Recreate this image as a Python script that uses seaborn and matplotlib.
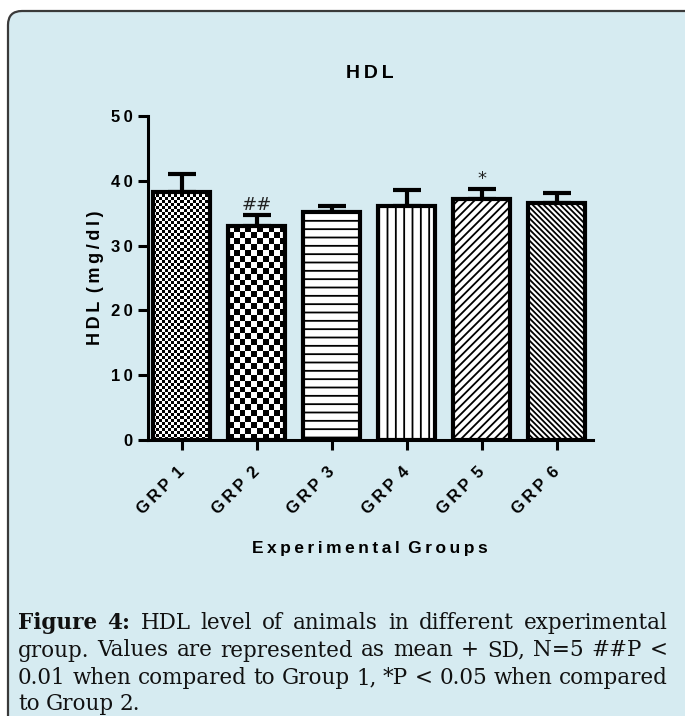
import numpy as np
import matplotlib
matplotlib.use('Agg')
import matplotlib.pyplot as plt
import seaborn as sns
from matplotlib.patches import FancyBboxPatch

# data (mean + SD, mg/dl)
groups = ['GRP 1', 'GRP 2', 'GRP 3', 'GRP 4', 'GRP 5', 'GRP 6']
hdl_mean = [38.3, 33.0, 35.2, 36.1, 37.2, 36.6]
hdl_sd = [2.7, 1.7, 0.9, 2.5, 1.5, 1.5]
sig_marks = ['', '##', '', '', '*', '']
y_ticks = [0, 10, 20, 30, 40, 50]

caption_bold = ['Figure', '4:']
caption_lines = [
    'Figure 4: HDL level of animals in different experimental',
    'group. Values are represented as mean + SD, N=5 ##P <',
    '0.01 when compared to Group 1, *P < 0.05 when compared',
    'to Group 2.',
]

BG = '#d6ebf1'
SANS = ['Liberation Sans', 'DejaVu Sans']
W, H = 685, 716


def spaced(s, gap='\u2009'):
    # GraphPad style letter spacing
    return (gap + ' ').join(gap.join(w) for w in s.split(' '))


sns.set_style('ticks', {'axes.facecolor': 'none'})
plt.rcParams['font.family'] = SANS
plt.rcParams['hatch.linewidth'] = 1.3
for k in ['text.color', 'axes.labelcolor', 'xtick.color', 'ytick.color',
          'axes.edgecolor']:
    plt.rcParams[k] = 'black'

fig = plt.figure(figsize=(W / 100, H / 100), dpi=100)
fig.patch.set_facecolor('white')

# panel background, only the top-left corner is visible
panel = FancyBboxPatch((8 / W, -0.2), 1.3, 1.2 - 11 / H,
                       boxstyle='round,pad=0,rounding_size=%f' % (14 / W),
                       mutation_aspect=W / H, transform=fig.transFigure,
                       facecolor=BG, edgecolor='#3a3a3a', linewidth=1.6,
                       zorder=-10)
fig.add_artist(panel)

ax = fig.add_axes([148 / W, 276 / H, 445 / W, 324 / H])

sns.barplot(x=groups, y=hdl_mean, color='white', edgecolor='black',
            linewidth=3, width=0.76, saturation=1, ax=ax, zorder=3)
bars = list(ax.patches)
xc = [b.get_x() + b.get_width() / 2 for b in bars]

ax.errorbar(xc, hdl_mean, yerr=[np.zeros(len(hdl_sd)), hdl_sd], fmt='none',
            ecolor='black', elinewidth=3, capsize=10, capthick=3, zorder=2)

for x, m, s, mark in zip(xc, hdl_mean, hdl_sd, sig_marks):
    if mark:
        ax.annotate(mark, (x, m + s), xytext=(0, 4), textcoords='offset points',
                    ha='center', va='baseline', fontsize=13,
                    family='DejaVu Sans', color='#222222')

ax.set_ylim(0, 50)
ax.set_xlim(-0.45, 5.48)
ax.set_yticks(y_ticks)
ax.set_yticklabels([spaced(str(t)) for t in y_ticks])
ax.set_xticks(xc)
ax.set_xticklabels([spaced(g) for g in groups], rotation=45, ha='right',
                   rotation_mode='anchor', va='center')
sns.despine(ax=ax)
for side in ['left', 'bottom']:
    ax.spines[side].set_linewidth(2.2)
ax.tick_params(axis='both', width=2.2, length=7, direction='out',
               labelsize=12, colors='black')
ax.tick_params(axis='y', pad=4)
ax.tick_params(axis='x', pad=14)
for t in ax.get_xticklabels() + ax.get_yticklabels():
    t.set_fontweight('bold')

# bar textures
fig.canvas.draw()
for bar, cell in [(bars[0], 3), (bars[1], 6)]:
    bb = bar.get_window_extent()
    nx = max(1, int(round(bb.width / cell)))
    ny = max(1, int(round(bb.height / cell)))
    checker = np.add.outer(np.arange(ny), np.arange(nx)) % 2
    im = ax.imshow(checker, cmap='gray', vmin=0, vmax=1, origin='lower',
                   extent=(bar.get_x(), bar.get_x() + bar.get_width(),
                           0, bar.get_height()),
                   aspect='auto', interpolation='nearest', zorder=2.5)
    im.set_clip_path(bar)
    bar.set_facecolor('none')
for bar, h in zip(bars[2:], ['--', '||', '////', '\\\\\\\\\\\\']):
    bar.set_hatch(h)
ax.set_ylim(0, 50)
ax.set_xlim(-0.45, 5.48)

fig.text(370 / W, 1 - 73 / H, spaced('HDL'), ha='center', va='center',
         fontsize=14, fontweight='bold')
fig.text(95 / W, 1 - 278 / H, spaced('HDL (mg/dl)'), ha='center', va='center',
         rotation=90, fontsize=13, fontweight='bold')
fig.text(370 / W, 1 - 548 / H, spaced('Experimental Groups'), ha='center',
         va='center', fontsize=12.5, fontweight='bold')

# justified caption
renderer = fig.canvas.get_renderer()
left, right = 18, 668
baselines = [629, 656.5, 684, 710]
for i, (line, base) in enumerate(zip(caption_lines, baselines)):
    words = line.split(' ')
    texts = []
    for j, w in enumerate(words):
        bold = i == 0 and j < len(caption_bold)
        texts.append(fig.text(0, 1 - base / H, w, ha='left', va='baseline',
                              fontsize=15.5, family='DejaVu Serif',
                              fontweight='bold' if bold else 'normal',
                              color='#111111'))
    widths = [t.get_window_extent(renderer).width for t in texts]
    if i < len(caption_lines) - 1:
        gap = (right - left - sum(widths)) / (len(words) - 1)
    else:
        gap = 6
    x = left
    for t, w in zip(texts, widths):
        t.set_x(x / W)
        x += w + gap

fig.savefig('out.png', dpi=100, facecolor='white')
